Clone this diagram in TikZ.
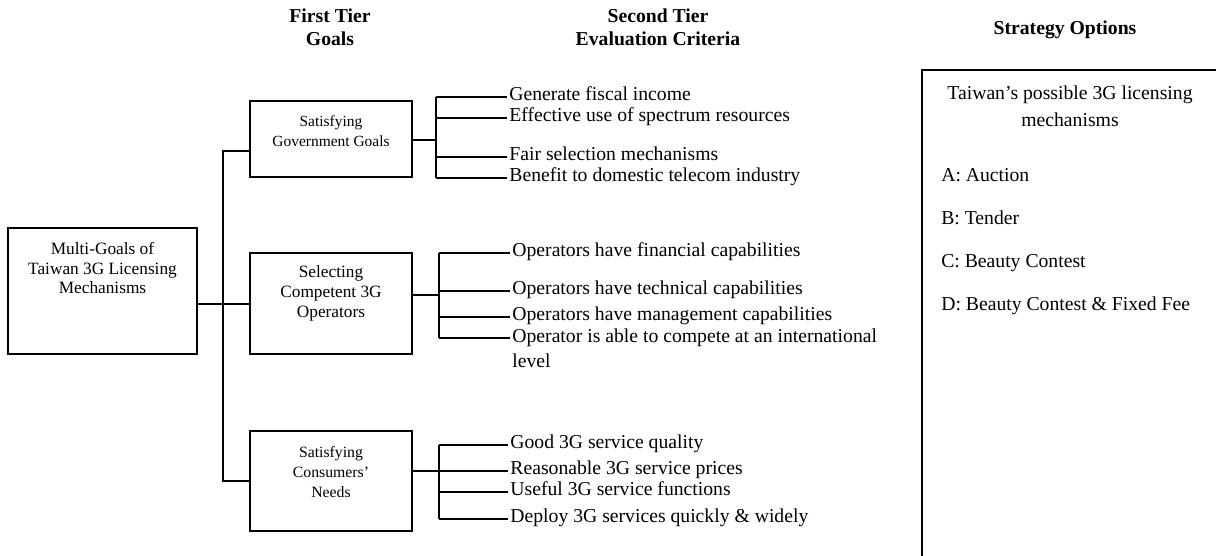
\documentclass[tikz,border=0pt]{standalone}
\usepackage{fontspec}
\setmainfont{Liberation Serif}
\usetikzlibrary{positioning}

\tikzset{
  line/.style={line width=1pt},
  goalbox/.style={draw, line width=1pt, minimum width=4.05cm, inner sep=0pt},
  boxtext/.style={align=center, inner sep=0pt},
  crit/.style={anchor=west, inner ysep=0pt, inner xsep=1.5pt, text height=0.7em, text depth=0.22em,
    font=\fontsize{14}{17.7}\selectfont},
  tier/.style={align=center, inner sep=0pt, font=\bfseries\fontsize{14}{16.3}\selectfont},
  option/.style={anchor=west, inner sep=0pt, text height=0.7em, text depth=0.22em,
    font=\fontsize{14}{19}\selectfont},
}

\begin{document}
\begin{tikzpicture}[x=0.025cm, y=-0.025cm]
        \useasboundingbox (0,0) rectangle (1216,556);

        % column headings
        \node[tier] (tier1) at (330,27) {First Tier\\Goals};
        \node[tier] (tier2) at (658,27) {Second Tier\\Evaluation Criteria};
        \node[tier] (strat) at (1065,30) {Strategy Options};

        % overall goal
        \node[goalbox, minimum width=4.725cm, minimum height=3.15cm] (root) at (102.5,291) {};
        \node[boxtext, font=\fontsize{12.3}{14.2}\selectfont] (root-t) at (102.5,268) {Multi-Goals of\\Taiwan 3G Licensing\\Mechanisms};

        % first tier goals
        \node[goalbox, minimum height=1.9cm] (gov) at (331,139) {};
        \node[boxtext, font=\fontsize{11}{14.2}\selectfont] (gov-t) at (331,131) {Satisfying\\Government Goals};
        \node[goalbox, minimum height=2.525cm] (ops) at (331,303.5) {};
        \node[boxtext, font=\fontsize{12.3}{14.2}\selectfont] (ops-t) at (331,293) {Selecting\\Competent 3G\\Operators};
        \node[goalbox, minimum height=2.5cm] (con) at (331,481) {};
        \node[boxtext, font=\fontsize{11.2}{14.2}\selectfont] (con-t) at (331,472) {Satisfying\\Consumers’\\Needs};

        % trunk from the overall goal
        \coordinate (jt) at (223,151);
        \coordinate (jr) at (223,304);
        \coordinate (jb) at (223,481);
        \draw[line] (jr -| root.east) -- (jr -| ops.west);
        \draw[line] (jt -| gov.west) -- (jt) -- (jb) -- (jb -| con.west);

        % criteria of the government goals
        \coordinate (gb) at (436,140);
        \node[crit] (g1) at (507,97) {Generate fiscal income};
        \node[crit] (g2) at (507,118) {Effective use of spectrum resources};
        \node[crit] (g3) at (507,157) {Fair selection mechanisms};
        \node[crit] (g4) at (507,178) {Benefit to domestic telecom industry};
        \draw[line] (gb -| gov.east) -- (gb);
        \draw[line] (g1.west -| gb) -- (g4.west -| gb);
        \draw[line] (g1.west -| gb) -- (g1.west);
        \draw[line] (g2.west -| gb) -- (g2.west);
        \draw[line] (g3.west -| gb) -- (g3.west);
        \draw[line] (g4.west -| gb) -- (g4.west);

        % criteria of the operators
        \coordinate (ob) at (439,295);
        \coordinate (ob4) at (439,338);
        \node[crit] (o1) at (510,253) {Operators have financial capabilities};
        \node[crit] (o2) at (510,291) {Operators have technical capabilities};
        \node[crit] (o3) at (510,317) {Operators have management capabilities};
        \node[crit, anchor=north west, align=left, text height=, text depth=] (o4) at (510,329) {Operator is able to compete at an international\\level};
        \draw[line] (ob -| ops.east) -- (ob);
        \draw[line] (o1.west -| ob) -- (ob4);
        \draw[line] (o1.west -| ob) -- (o1.west);
        \draw[line] (o2.west -| ob) -- (o2.west);
        \draw[line] (o3.west -| ob) -- (o3.west);
        \draw[line] (ob4) -- (ob4 -| o4.west);

        % criteria of the consumers
        \coordinate (cb) at (439,471);
        \node[crit] (c1) at (508,445) {Good 3G service quality};
        \node[crit] (c2) at (508,471) {Reasonable 3G service prices};
        \node[crit] (c3) at (508,492) {Useful 3G service functions};
        \node[crit] (c4) at (508,519) {Deploy 3G services quickly \& widely};
        \draw[line] (cb -| con.east) -- (cb);
        \draw[line] (c1.west -| cb) -- (c4.west -| cb);
        \draw[line] (c1.west -| cb) -- (c1.west);
        \draw[line] (c2.west -| cb) -- (c2.west);
        \draw[line] (c3.west -| cb) -- (c3.west);
        \draw[line] (c4.west -| cb) -- (c4.west);

        % strategy options, box runs off the page
        \draw[line] (922,556) -- (922,70) -- (1216,70);
        \node[boxtext, font=\fontsize{14}{19}\selectfont] (mech) at (1070,106) {Taiwan’s possible 3G licensing\\mechanisms};
        \node[option] (optA) at (941,178) {A: Auction};
        \node[option] (optB) at (941,221) {B: Tender};
        \node[option] (optC) at (941,264) {C: Beauty Contest};
        \node[option] (optD) at (941,307) {D: Beauty Contest \& Fixed Fee};

    \end{tikzpicture}
\end{document}
